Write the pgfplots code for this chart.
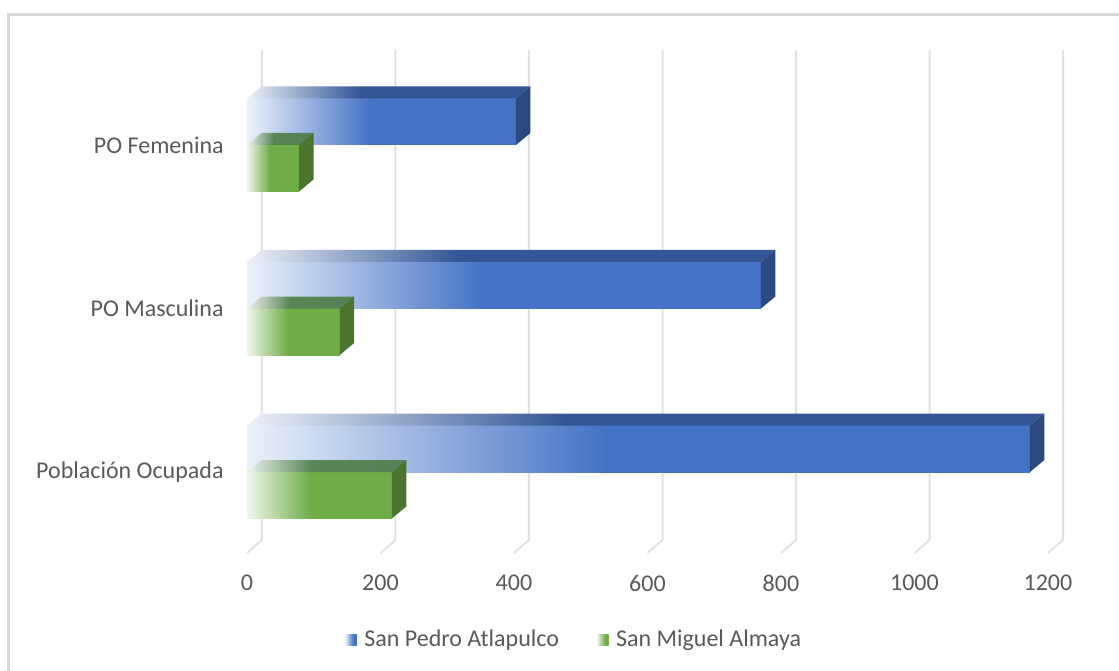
\documentclass[border=0pt]{standalone}
\usepackage{pgfplots}
\pgfplotsset{compat=1.18}
\usepackage{fontspec}
\setmainfont{Carlito}
\definecolor{blueC}{RGB}{68,114,196}
\definecolor{blueL}{RGB}{236,241,250}
\definecolor{blueTop}{RGB}{50,86,150}
\definecolor{blueTopL}{RGB}{238,241,247}
\definecolor{blueSide}{RGB}{42,73,128}
\definecolor{greenC}{RGB}{112,173,71}
\definecolor{greenL}{RGB}{240,247,236}
\definecolor{greenTop}{RGB}{78,124,72}
\definecolor{greenTopL}{RGB}{238,244,238}
\definecolor{greenSide}{RGB}{75,117,46}
\definecolor{gridC}{RGB}{226,226,226}
\definecolor{frameC}{RGB}{217,217,217}
\definecolor{textC}{RGB}{89,89,89}
\pgfdeclarehorizontalshading{blueFront}{100bp}{color(0bp)=(blueL); color(25bp)=(blueL); color(48bp)=(blueC); color(100bp)=(blueC)}
\pgfdeclarehorizontalshading{blueTopS}{100bp}{color(0bp)=(blueTopL); color(25bp)=(blueTopL); color(45bp)=(blueTop); color(100bp)=(blueTop)}
\pgfdeclarehorizontalshading{greenFront}{100bp}{color(0bp)=(greenL); color(25bp)=(greenL); color(47bp)=(greenC); color(100bp)=(greenC)}
\pgfdeclarehorizontalshading{greenTopS}{100bp}{color(0bp)=(greenTopL); color(25bp)=(greenTopL); color(45bp)=(greenTop); color(100bp)=(greenTop)}
\pgfdeclarehorizontalshading{blueLeg}{100bp}{color(0bp)=(blueL); color(25bp)=(blueL); color(60bp)=(blueC); color(100bp)=(blueC)}
\pgfdeclarehorizontalshading{greenLeg}{100bp}{color(0bp)=(greenL); color(25bp)=(greenL); color(60bp)=(greenC); color(100bp)=(greenC)}
\pgfplotsset{
  bluebar/.style={xbar, bar width=46.5, bar shift=23.25, draw=none, shade, shading=blueFront},
  greenbar/.style={xbar, bar width=46.5, bar shift=-23.25, draw=none, shade, shading=greenFront},
}
\begin{document}
\begin{tikzpicture}
\begin{axis}[
  name=ax,
  scale only axis,
  width=559.5pt, height=335pt,
  xmin=-370, xmax=1306.4, ymin=0, ymax=670,
  axis line style={draw=none},
  major tick length=0pt,
  xtick={0,200,400,600,800,1000,1200},
  ytick={198,361.5,525},
  yticklabels={Población Ocupada, PO Masculina, PO Femenina},
  /pgf/number format/1000 sep={},
  /pgf/number format/assume math mode=true,
  tick label style={font=\fontsize{12}{14}\selectfont, text=textC},
  xticklabel style={anchor=center, yshift=43.5pt},
  yticklabel style={anchor=east, inner sep=0pt, xshift=112pt},
  legend style={at={(rel axis cs:0.514,0.0448)}, anchor=center, draw=none, fill=none,
    font=\fontsize{12}{14}\selectfont, text=textC,
    /tikz/every even column/.append style={column sep=17pt}},
  legend columns=2,
]
% gridlines (back plane with floor segment)
\addplot[forget plot, gridC, line width=1pt] coordinates {(0,117) (22.5,130) (22.5,620)};
\addplot[forget plot, gridC, line width=1pt] coordinates {(200,117) (222.5,130) (222.5,620)};
\addplot[forget plot, gridC, line width=1pt] coordinates {(400,117) (422.5,130) (422.5,620)};
\addplot[forget plot, gridC, line width=1pt] coordinates {(600,117) (622.5,130) (622.5,620)};
\addplot[forget plot, gridC, line width=1pt] coordinates {(800,117) (822.5,130) (822.5,620)};
\addplot[forget plot, gridC, line width=1pt] coordinates {(1000,117) (1022.5,130) (1022.5,620)};
\addplot[forget plot, gridC, line width=1pt] coordinates {(1200,117) (1222.5,130) (1222.5,620)};

% San Pedro Atlapulco (front faces, one plot per bar so each gets its own gradient)
\addplot[bluebar,
  legend image code/.code={\shade[shading=blueLeg] (0pt,-2.9pt) rectangle (5.8pt,2.9pt); \path (7.5pt,0pt);}]
  coordinates {(1173,198)};
\addlegendentry{San Pedro Atlapulco}
\addplot[bluebar, forget plot] coordinates {(770,361.5)};
\addplot[bluebar, forget plot] coordinates {(403,525)};
% top faces
\addplot[forget plot, draw=none, shade, shading=blueTopS] coordinates {(0,244.5) (1173,244.5) (1194.7,256.5) (21.7,256.5)} -- cycle;
\addplot[forget plot, draw=none, shade, shading=blueTopS] coordinates {(0,408) (770,408) (791.7,420) (21.7,420)} -- cycle;
\addplot[forget plot, draw=none, shade, shading=blueTopS] coordinates {(0,571.5) (403,571.5) (424.7,583.5) (21.7,583.5)} -- cycle;
% side faces
\addplot[forget plot, draw=none, fill=blueSide] coordinates {(1173,198) (1173,244.5) (1194.7,256.5) (1194.7,210)} -- cycle;
\addplot[forget plot, draw=none, fill=blueSide] coordinates {(770,361.5) (770,408) (791.7,420) (791.7,373.5)} -- cycle;
\addplot[forget plot, draw=none, fill=blueSide] coordinates {(403,525) (403,571.5) (424.7,583.5) (424.7,537)} -- cycle;

% San Miguel Almaya (front faces)
\addplot[greenbar,
  legend image code/.code={\shade[shading=greenLeg] (0pt,-2.9pt) rectangle (5.8pt,2.9pt); \path (7.5pt,0pt);}]
  coordinates {(217,198)};
\addlegendentry{San Miguel Almaya}
\addplot[greenbar, forget plot] coordinates {(139,361.5)};
\addplot[greenbar, forget plot] coordinates {(78,525)};
\addplot[forget plot, draw=none, shade, shading=greenTopS, opacity=0.9] coordinates {(0,198) (217,198) (238.7,210) (21.7,210)} -- cycle;
\addplot[forget plot, draw=none, shade, shading=greenTopS, opacity=0.9] coordinates {(0,361.5) (139,361.5) (160.7,373.5) (21.7,373.5)} -- cycle;
\addplot[forget plot, draw=none, shade, shading=greenTopS, opacity=0.9] coordinates {(0,525) (78,525) (99.7,537) (21.7,537)} -- cycle;
\addplot[forget plot, draw=none, fill=greenSide] coordinates {(217,151.5) (217,198) (238.7,210) (238.7,163.5)} -- cycle;
\addplot[forget plot, draw=none, fill=greenSide] coordinates {(139,315) (139,361.5) (160.7,373.5) (160.7,327)} -- cycle;
\addplot[forget plot, draw=none, fill=greenSide] coordinates {(78,478.5) (78,525) (99.7,537) (99.7,490.5)} -- cycle;

% chart frame
\draw[frameC, line width=1.2pt] (rel axis cs:1.01,0.9784) -- (rel axis cs:0.0076,0.9784) -- (rel axis cs:0.0076,-0.01);
\end{axis}
\pgfresetboundingbox
\path[use as bounding box] (ax.south west) rectangle (ax.north east);
\end{tikzpicture}
\end{document}
